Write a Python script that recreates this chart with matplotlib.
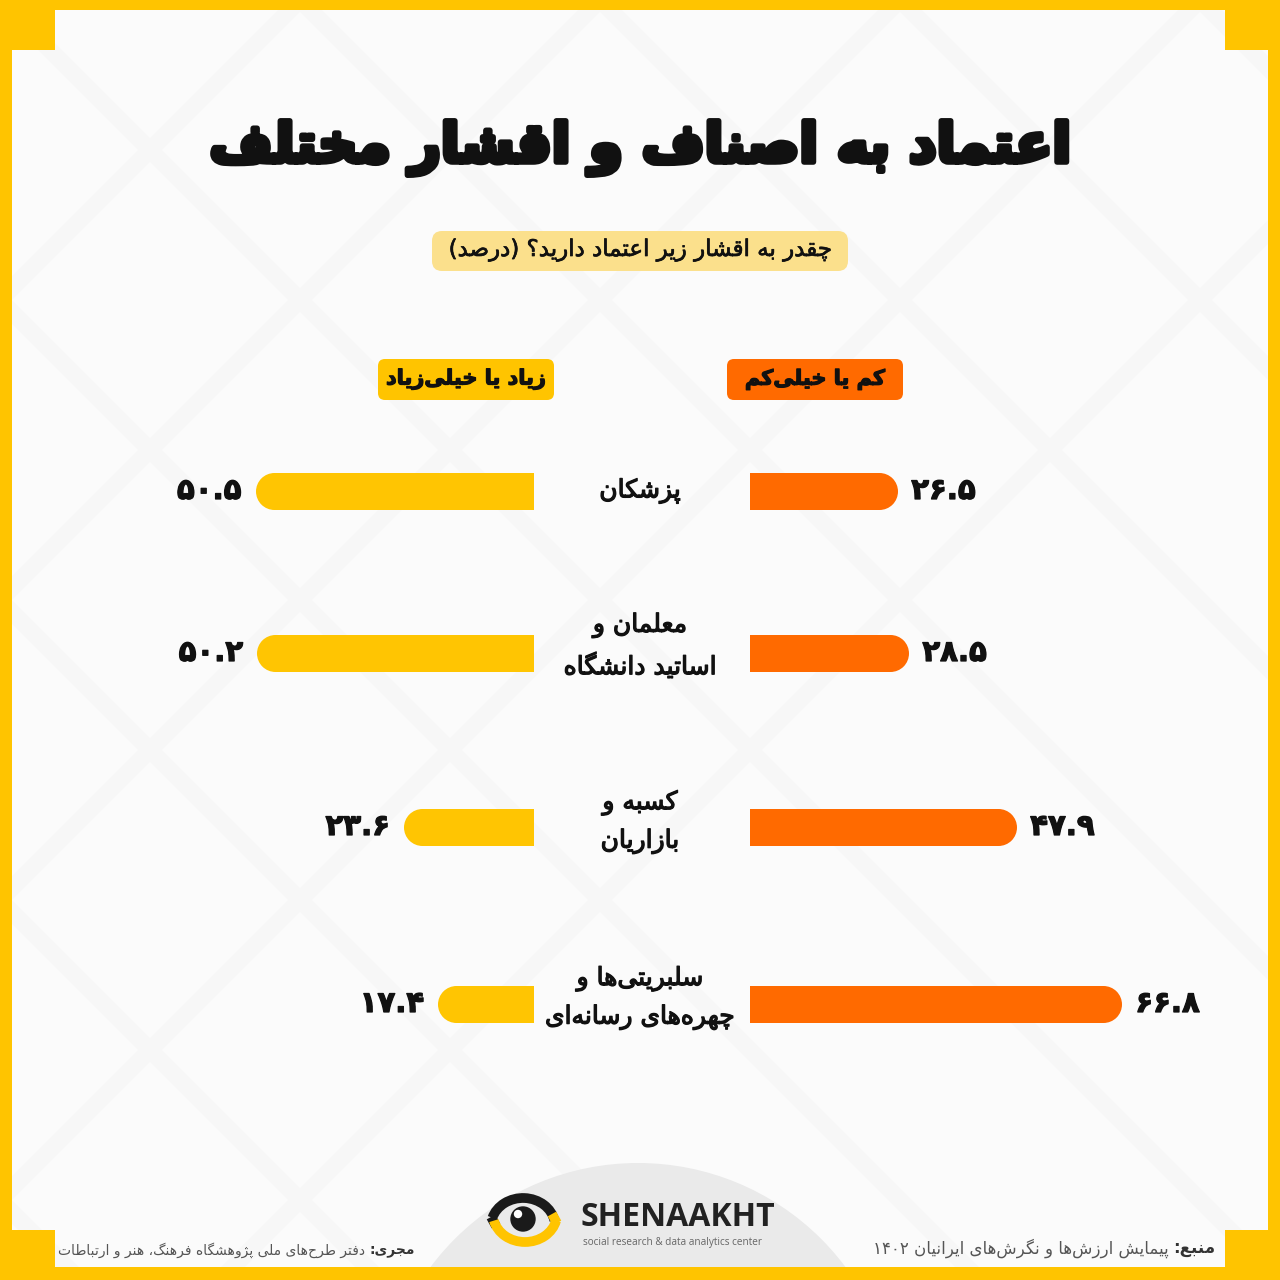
import matplotlib
matplotlib.use("Agg")
import matplotlib.pyplot as plt
import matplotlib.patheffects as pe
from matplotlib.patches import FancyBboxPatch, Polygon, Circle, Arc

# data
categories = ["پزشکان", "معلمان و\nاساتید دانشگاه", "کسبه و\nبازاریان", "سلبریتی‌ها و\nچهره‌های رسانه‌ای"]
low_trust = [26.5, 28.5, 47.9, 66.8]     # کم یا خیلی‌کم
high_trust = [50.5, 50.2, 23.6, 17.4]    # زیاد یا خیلی‌زیاد

title = "اعتماد به اصناف و اقشار مختلف"
subtitle = "چقدر به اقشار زیر اعتماد دارید؟ (درصد)"
legend_low = "کم یا خیلی‌کم"
legend_high = "زیاد یا خیلی‌زیاد"
source_label = "منبع:"
source_text = "پیمایش ارزش‌ها و نگرش‌های ایرانیان ۱۴۰۲"
exec_label = "مجری:"
exec_text = "دفتر طرح‌های ملی پژوهشگاه فرهنگ، هنر و ارتباطات"

# layout (pixels)
rows = [491, 653, 827, 1004]
YELLOW = "#FFC400"
ORANGE = "#FF6A00"
BAR_YEL = "#FFC502"

# --- tiny arabic/persian shaper (no arabic_reshaper available)
FORMS = {
    'ا': (0xFE8D, 0xFE8E, None, None), 'آ': (0xFE81, 0xFE82, None, None),
    'ب': (0xFE8F, 0xFE90, 0xFE91, 0xFE92), 'پ': (0xFB56, 0xFB57, 0xFB58, 0xFB59),
    'ت': (0xFE95, 0xFE96, 0xFE97, 0xFE98), 'ث': (0xFE99, 0xFE9A, 0xFE9B, 0xFE9C),
    'ج': (0xFE9D, 0xFE9E, 0xFE9F, 0xFEA0), 'چ': (0xFB7A, 0xFB7B, 0xFB7C, 0xFB7D),
    'ح': (0xFEA1, 0xFEA2, 0xFEA3, 0xFEA4), 'خ': (0xFEA5, 0xFEA6, 0xFEA7, 0xFEA8),
    'د': (0xFEA9, 0xFEAA, None, None), 'ذ': (0xFEAB, 0xFEAC, None, None),
    'ر': (0xFEAD, 0xFEAE, None, None), 'ز': (0xFEAF, 0xFEB0, None, None),
    'ژ': (0xFB8A, 0xFB8B, None, None),
    'س': (0xFEB1, 0xFEB2, 0xFEB3, 0xFEB4), 'ش': (0xFEB5, 0xFEB6, 0xFEB7, 0xFEB8),
    'ص': (0xFEB9, 0xFEBA, 0xFEBB, 0xFEBC), 'ض': (0xFEBD, 0xFEBE, 0xFEBF, 0xFEC0),
    'ط': (0xFEC1, 0xFEC2, 0xFEC3, 0xFEC4), 'ظ': (0xFEC5, 0xFEC6, 0xFEC7, 0xFEC8),
    'ع': (0xFEC9, 0xFECA, 0xFECB, 0xFECC), 'غ': (0xFECD, 0xFECE, 0xFECF, 0xFED0),
    'ف': (0xFED1, 0xFED2, 0xFED3, 0xFED4), 'ق': (0xFED5, 0xFED6, 0xFED7, 0xFED8),
    'ک': (0xFB8E, 0xFB8F, 0xFB90, 0xFB91), 'گ': (0xFB92, 0xFB93, 0xFB94, 0xFB95),
    'ل': (0xFEDD, 0xFEDE, 0xFEDF, 0xFEE0), 'م': (0xFEE1, 0xFEE2, 0xFEE3, 0xFEE4),
    'ن': (0xFEE5, 0xFEE6, 0xFEE7, 0xFEE8), 'و': (0xFEED, 0xFEEE, None, None),
    'ه': (0xFEE9, 0xFEEA, 0xFEEB, 0xFEEC), 'ی': (0xFBFC, 0xFBFD, 0xFBFE, 0xFBFF),
}
MIRROR = {'(': ')', ')': '('}


def shape(s):
    out = []
    for i, ch in enumerate(s):
        if ch not in FORMS:
            out.append(ch)
            continue
        iso, fin, ini, med = FORMS[ch]
        prev = s[i - 1] if i > 0 else ''
        nxt = s[i + 1] if i + 1 < len(s) else ''
        jp = prev in FORMS and FORMS[prev][2] is not None
        jn = ini is not None and nxt in FORMS
        if jp and jn:
            c = med
        elif jp:
            c = fin
        elif jn:
            c = ini
        else:
            c = iso
        out.append(chr(c))
    return ''.join(out).replace('\u200c', '')


def fa(s):
    lines = []
    for line in s.split('\n'):
        sh = shape(line)
        runs = []
        for ch in sh:
            kind = 'L' if ch.isdigit() else 'R'
            if runs and runs[-1][0] == kind:
                runs[-1][1] += ch
            else:
                runs.append([kind, ch])
        vis = ''
        for kind, txt in reversed(runs):
            if kind == 'R':
                txt = ''.join(MIRROR.get(c, c) for c in reversed(txt))
            vis += txt
        lines.append(vis)
    return '\n'.join(lines)


def fanum(v):
    return str(v).translate(str.maketrans("0123456789", "۰۱۲۳۴۵۶۷۸۹"))


plt.rcParams['font.family'] = ['DejaVu Sans']
thick = [pe.withStroke(linewidth=0.9, foreground='#111111')]

fig = plt.figure(figsize=(12.8, 12.8), dpi=100)
fig.patch.set_facecolor(YELLOW)
ax0 = fig.add_axes([0, 0, 1, 1])
ax0.set_xlim(0, 1280)
ax0.set_ylim(1280, 0)
ax0.axis('off')

# white cross-shaped panel
panel = Polygon([(55, 10), (1225, 10), (1225, 50), (1268, 50), (1268, 1230), (1225, 1230),
                 (1225, 1267), (55, 1267), (55, 1230), (12, 1230), (12, 50), (55, 50)],
                closed=True, facecolor="#FBFBFB", edgecolor='none', zorder=0)
ax0.add_patch(panel)

# faint lattice in the background
for k in range(-4, 6):
    for sgn in (1, -1):
        x0 = k * 300
        ln, = ax0.plot([x0, x0 + sgn * 1300], [0, 1300], color="#F7F7F7", lw=12, zorder=0.5,
                       solid_capstyle='butt')
        ln.set_clip_path(panel)

# grey hill behind the logo
hill = Circle((638, 1422), 259, facecolor="#EAEAEA", edgecolor='none', zorder=1)
ax0.add_patch(hill)
hill.set_clip_path(panel)

# title & subtitle
ax0.text(640, 148, fa(title), ha='center', va='center', fontsize=39, fontweight='bold',
         color='#111111', path_effects=[pe.withStroke(linewidth=4, foreground='#111111')], zorder=5)
ax0.add_patch(FancyBboxPatch((432, 231), 416, 40, boxstyle="round,pad=0,rounding_size=10",
                             facecolor="#FBE08C", edgecolor='none', zorder=3))
ax0.text(640, 250, fa(subtitle), ha='center', va='center', fontsize=16.5, color='#111111',
         path_effects=[pe.withStroke(linewidth=0.5, foreground='#111111')], zorder=5)

# legend boxes
ax0.add_patch(FancyBboxPatch((378, 359), 176, 41, boxstyle="round,pad=0,rounding_size=7",
                             facecolor=YELLOW, edgecolor='none', zorder=3))
ax0.text(466, 379, fa(legend_high), ha='center', va='center', fontsize=15, fontweight='bold',
         color='#111111', path_effects=thick, zorder=5)
ax0.add_patch(FancyBboxPatch((727, 359), 176, 41, boxstyle="round,pad=0,rounding_size=7",
                             facecolor=ORANGE, edgecolor='none', zorder=3))
ax0.text(815, 379, fa(legend_low), ha='center', va='center', fontsize=15, fontweight='bold',
         color='#111111', path_effects=thick, zorder=5)

# category labels
cat_shift = [0, -7, -5, -6]
for cat, y, dy in zip(categories, rows, cat_shift):
    ax0.text(640, y + dy, fa(cat), ha='center', va='center', fontsize=18, color='#111111',
             linespacing=1.7, path_effects=thick, zorder=5)

# bars: right (low trust, orange) and left (high trust, yellow)
BAR_H = 37
scale_r = 5.56
scale_l = 5.52
axr = fig.add_axes([750 / 1280, 0, 530 / 1280, 1])
axr.set_xlim(0, 530 / scale_r)
axr.set_ylim(1280, 0)
axr.axis('off')
cap_r = (BAR_H / 2) / scale_r
axr.barh(rows, [v - cap_r for v in low_trust], height=BAR_H, color=ORANGE, left=0)
axr.plot([v - cap_r for v in low_trust], rows, 'o', ms=BAR_H * 0.72, color=ORANGE, mew=0)
for v, y in zip(low_trust, rows):
    axr.annotate(fanum(v), xy=(v, y), xytext=(10, 0), textcoords='offset points',
                 ha='left', va='center', fontsize=21, fontweight='bold', color='#111111',
                 path_effects=thick)

axl = fig.add_axes([0, 0, 534 / 1280, 1])
axl.set_xlim(534 / scale_l, 0)
axl.set_ylim(1280, 0)
axl.axis('off')
cap_l = (BAR_H / 2) / scale_l
axl.barh(rows, [v - cap_l for v in high_trust], height=BAR_H, color=BAR_YEL, left=0)
axl.plot([v - cap_l for v in high_trust], rows, 'o', ms=BAR_H * 0.72, color=BAR_YEL, mew=0)
for v, y in zip(high_trust, rows):
    axl.annotate(fanum(v), xy=(v, y), xytext=(-10, 0), textcoords='offset points',
                 ha='right', va='center', fontsize=21, fontweight='bold', color='#111111',
                 path_effects=thick)

# logo
ax0.add_patch(Arc((523, 1226), 64, 56, theta1=195, theta2=350, lw=7, color='#1A1A1A', zorder=4))
ax0.plot([491, 496], [1217, 1226], color='#1A1A1A', lw=7, solid_capstyle='butt', zorder=4)
ax0.add_patch(Arc((525, 1214), 64, 56, theta1=12, theta2=168, lw=7, color=YELLOW, zorder=4))
ax0.plot([557, 552], [1223, 1214], color=YELLOW, lw=7, solid_capstyle='butt', zorder=4)
ax0.add_patch(Circle((523, 1219), 12, color='#1A1A1A', zorder=5))
ax0.add_patch(Circle((518, 1214), 3.5, color='white', zorder=6))
ax0.text(581, 1218, "SHENAAKHT", ha='left', va='center', fontsize=23, fontweight='bold',
         color='#222222', fontfamily='Open Sans', zorder=5)
ax0.text(583, 1243, "social research & data analytics center", ha='left', va='center',
         fontsize=7.2, color='#666666', fontfamily='Open Sans', zorder=5)

# footer
fig.canvas.draw()
r = fig.canvas.get_renderer()
inv = ax0.transData.inverted()
t1 = ax0.text(1215, 1248, fa(source_label), ha='right', va='center', fontsize=12,
              fontweight='bold', color='#333333', zorder=5)
bb = t1.get_window_extent(renderer=r)
x_left = inv.transform((bb.x0, 0))[0]
ax0.text(x_left - 4, 1248, fa(source_text), ha='right', va='center', fontsize=12,
         color='#555555', zorder=5)

t2 = ax0.text(415, 1250, fa(exec_label), ha='right', va='center', fontsize=10,
              fontweight='bold', color='#333333', zorder=5)
bb = t2.get_window_extent(renderer=r)
x_left = inv.transform((bb.x0, 0))[0]
ax0.text(x_left - 4, 1250, fa(exec_text), ha='right', va='center', fontsize=10,
         color='#555555', zorder=5)

fig.savefig("out.png", dpi=100, facecolor=YELLOW)
